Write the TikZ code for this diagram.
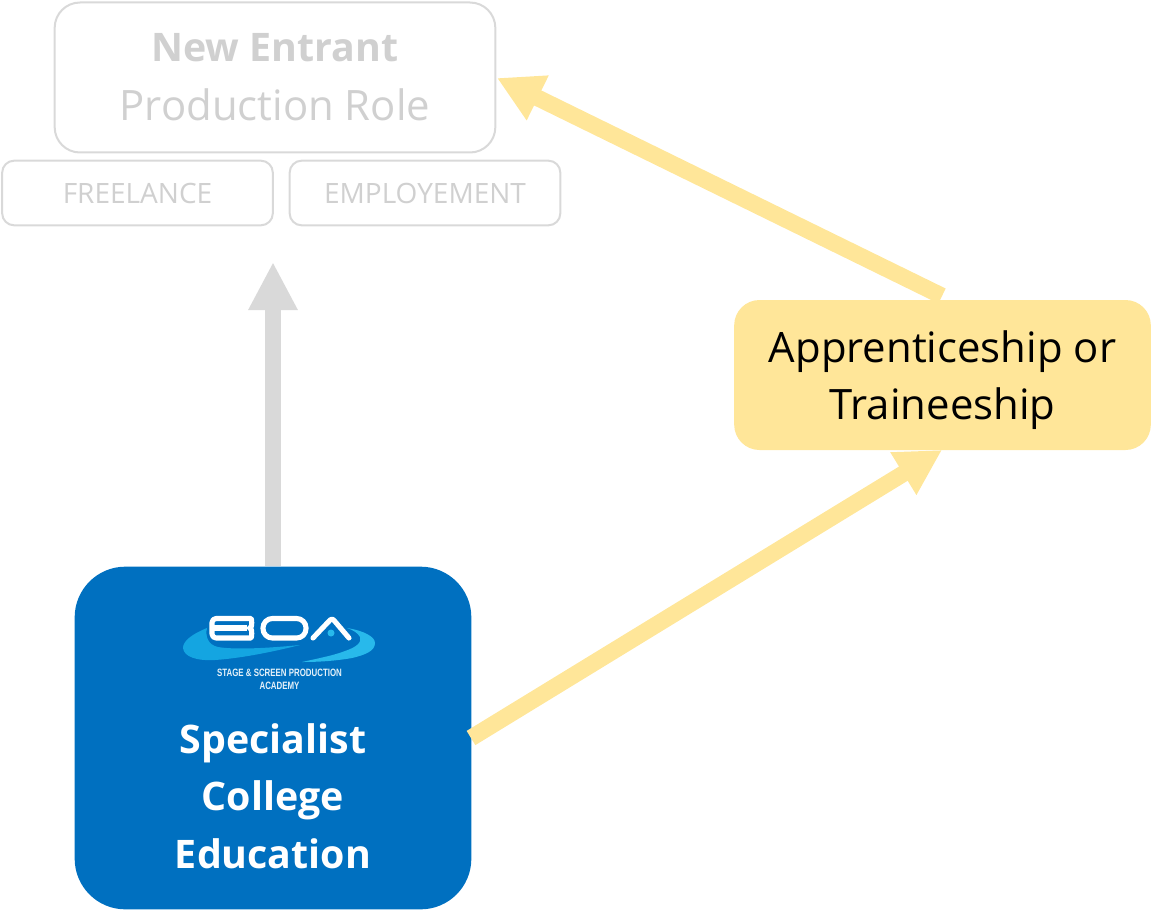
\documentclass[tikz,border=0pt]{standalone}
\usepackage{fontspec}
\setmainfont{Open Sans}[Ligatures=NoCommon]
\newfontfamily\logof{Liberation Sans}[FakeStretch=0.74]
\usetikzlibrary{arrows.meta}
\definecolor{gtxt}{RGB}{208,208,208}
\definecolor{gline}{RGB}{217,217,217}
\definecolor{ylw}{RGB}{255,230,153}
\definecolor{blu}{RGB}{0,112,192}
\definecolor{swoosh}{RGB}{20,165,225}
\definecolor{swooshb}{RGB}{40,185,235}
\tikzset{
 ghost/.style={draw=gline,line width=1.5pt,fill=white,align=center,text=gtxt,inner sep=0pt},
 flow/.style={line width=12.5pt,draw=ylw,-{Triangle[length=34pt,width=35pt]}},
 grey/.style={line width=12pt,draw=gline,-{Triangle[length=36pt,width=34.5pt]}},
 logoline/.style={draw=white,line width=3.8pt,line join=round},
 bigtxt/.style={font=\fontsize{31.4}{43}\selectfont},
 smalltxt/.style={font=\fontsize{21}{26}\selectfont}
}
\begin{document}
\begin{tikzpicture}[x=0.75pt,y=-0.75pt]
\useasboundingbox (0,0) rectangle (1151,909);
\node[ghost,minimum width=330.5pt,minimum height=112.5pt,rounded corners=19pt,bigtxt] (entrant) at (275,77.5) {{\fontsize{29.5}{43}\selectfont\textbf{New Entrant}}\\[1.5pt]Production Role};
\node[ghost,minimum width=203pt,minimum height=48.5pt,rounded corners=9pt,smalltxt] (free) at (137.5,193) {FREELANCE};
\node[ghost,minimum width=203pt,minimum height=48.5pt,rounded corners=9pt,smalltxt] (emp) at (425,193) {EMPLOYEMENT};
\node[fill=ylw,minimum width=312.5pt,minimum height=112.5pt,rounded corners=19pt,inner sep=0pt] (app) at (942.5,375) {};
\node[align=center,bigtxt,inner sep=0pt] (apptxt) at (942.5,380) {Apprenticeship or\\Traineeship};
\node[fill=blu,minimum width=297.5pt,minimum height=257pt,rounded corners=38pt,inner sep=0pt] (col) at (273,738) {};
\node[text=white,align=center,font=\bfseries\fontsize{29.5}{43}\selectfont] (coltxt) at (273,796) {Specialist\\College\\Education};
\coordinate (topg) at (273,262);
\coordinate (aptop) at (942,296);
\coordinate (entr) at (497,78);
\coordinate (colr) at (471,738);
\coordinate (apb) at (942,450);
\draw[grey] (col.north) -- (topg);
\draw[flow] (aptop) -- (entr);
\draw[flow] (colr) -- (apb);
% logo swooshes
\fill[swoosh] (207,628) .. controls (192,634) and (183,641) .. (183,648) .. controls (184,657) and (197,661) .. (215,660) .. controls (245,658) and (280,650) .. (300,645) .. controls (270,648) and (235,650) .. (218,647) .. controls (208,645) and (205,636) .. (207,628) -- cycle;
\fill[swooshb] (347,628) .. controls (365,631) and (375,637) .. (375,643) .. controls (375,651) and (365,655) .. (352,658) .. controls (335,661) and (318,662) .. (302,662) .. controls (320,658) and (335,655) .. (345,651) .. controls (357,647) and (362,642) .. (360,637) .. controls (358,633) and (353,630) .. (347,628) -- cycle;
% logo letters
\draw[logoline,rounded corners=3pt] (212,618.5) -- (247,618.5) .. controls (252,618.5) and (252,627) .. (247,628) .. controls (252,629) and (252,638) .. (247,638) -- (212,638) -- cycle;
\draw[logoline] (212,628) -- (247,628);
\draw[logoline,rounded corners=7pt] (263,618.5) rectangle (306,638);
\draw[logoline,line cap=round,rounded corners=2pt] (313,638) -- (332,618) -- (349,638);
\fill[swooshb] (331,633) circle[radius=3.5];
\node[text=white!90!blu,align=center,font=\logof\bfseries\fontsize{8}{9.6}\selectfont,inner sep=0pt] (acad) at (279.5,679.5) {STAGE \& SCREEN PRODUCTION\\ACADEMY};
\end{tikzpicture}
\end{document}
